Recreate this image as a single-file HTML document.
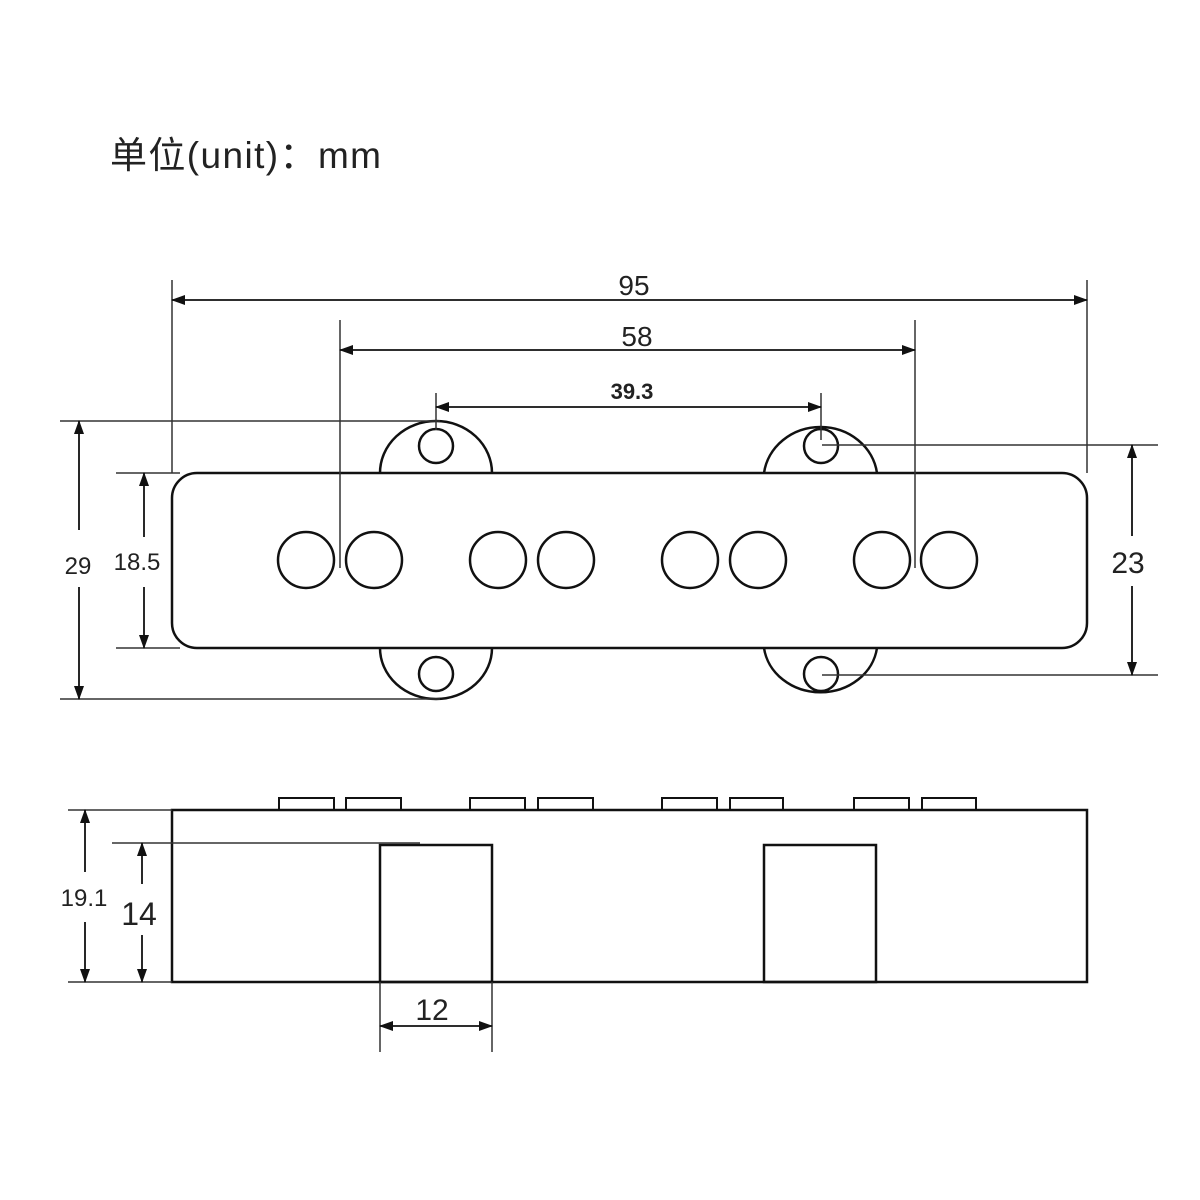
<!DOCTYPE html>
<html><head><meta charset="utf-8"><style>body{margin:0;background:#fff}svg{display:block}</style></head><body>
<svg width="1200" height="1200" viewBox="0 0 1200 1200" xmlns="http://www.w3.org/2000/svg">
<defs>
<marker id="a" markerWidth="14" markerHeight="10" refX="13" refY="5" orient="auto-start-reverse" markerUnits="userSpaceOnUse"><path d="M0,0 L14,5 L0,10 z" fill="#111"/></marker>
</defs>
<text x="110" y="168" font-family="Liberation Sans, Noto Sans CJK SC, sans-serif" font-size="37" letter-spacing="1" textLength="272" fill="#222">单位(unit)：mm</text>
<g fill="none" stroke="#111" stroke-width="2.5">
<path d="M380,473 A56,52 0 0 1 492,473"/>
<path d="M380,648 A56,51 0 0 0 492,648"/>
<path d="M764,473 A57,53 0 0 1 877,473"/>
<path d="M764,648 A57,51 0 0 0 877,648"/>
<rect x="172" y="473" width="915" height="175" rx="25"/>
<circle cx="436" cy="446" r="17"/><circle cx="436" cy="674" r="17"/>
<circle cx="821" cy="446" r="17"/><circle cx="821" cy="674" r="17"/>
<circle cx="306" cy="560" r="28"/><circle cx="374" cy="560" r="28"/>
<circle cx="498" cy="560" r="28"/><circle cx="566" cy="560" r="28"/>
<circle cx="690" cy="560" r="28"/><circle cx="758" cy="560" r="28"/>
<circle cx="882" cy="560" r="28"/><circle cx="949" cy="560" r="28"/>
<rect x="172" y="810" width="915" height="172"/>
<rect x="380" y="845" width="112" height="137"/>
<rect x="764" y="845" width="112" height="137"/>
<g stroke-width="2">
<rect x="279" y="798" width="55" height="12"/><rect x="346" y="798" width="55" height="12"/>
<rect x="470" y="798" width="55" height="12"/><rect x="538" y="798" width="55" height="12"/>
<rect x="662" y="798" width="55" height="12"/><rect x="730" y="798" width="53" height="12"/>
<rect x="854" y="798" width="55" height="12"/><rect x="922" y="798" width="54" height="12"/>
</g>
</g>
<g fill="none" stroke="#333" stroke-width="1.5">
<line x1="172" y1="280" x2="172" y2="473"/><line x1="1087" y1="280" x2="1087" y2="473"/>
<line x1="340" y1="320" x2="340" y2="568"/><line x1="915" y1="320" x2="915" y2="568"/>
<line x1="436" y1="393" x2="436" y2="430"/><line x1="821" y1="393" x2="821" y2="440"/>
<line x1="60" y1="421" x2="440" y2="421"/><line x1="60" y1="699" x2="440" y2="699"/>
<line x1="116" y1="473" x2="180" y2="473"/><line x1="116" y1="648" x2="180" y2="648"/>
<line x1="822" y1="445" x2="1158" y2="445"/><line x1="822" y1="675" x2="1158" y2="675"/>
<line x1="68" y1="810" x2="172" y2="810"/><line x1="68" y1="982" x2="172" y2="982"/>
<line x1="112" y1="843" x2="420" y2="843"/>
<line x1="380" y1="982" x2="380" y2="1052"/><line x1="492" y1="982" x2="492" y2="1052"/>
<g stroke="#111" stroke-width="1.8">
<line x1="172" y1="300" x2="1087" y2="300" marker-start="url(#a)" marker-end="url(#a)"/>
<line x1="340" y1="350" x2="915" y2="350" marker-start="url(#a)" marker-end="url(#a)"/>
<line x1="436" y1="407" x2="821" y2="407" marker-start="url(#a)" marker-end="url(#a)"/>
<line x1="79" y1="530" x2="79" y2="421" marker-end="url(#a)"/><line x1="79" y1="587" x2="79" y2="699" marker-end="url(#a)"/>
<line x1="144" y1="537" x2="144" y2="473" marker-end="url(#a)"/><line x1="144" y1="587" x2="144" y2="648" marker-end="url(#a)"/>
<line x1="1132" y1="536" x2="1132" y2="445" marker-end="url(#a)"/><line x1="1132" y1="586" x2="1132" y2="675" marker-end="url(#a)"/>
<line x1="85" y1="872" x2="85" y2="810" marker-end="url(#a)"/><line x1="85" y1="922" x2="85" y2="982" marker-end="url(#a)"/>
<line x1="142" y1="884" x2="142" y2="843" marker-end="url(#a)"/><line x1="142" y1="935" x2="142" y2="982" marker-end="url(#a)"/>
<line x1="380" y1="1026" x2="492" y2="1026" marker-start="url(#a)" marker-end="url(#a)"/>
</g>
</g>
<g font-family="Liberation Sans, sans-serif" fill="#222" text-anchor="middle">
<text x="634" y="295" font-size="28">95</text>
<text x="637" y="346" font-size="28">58</text>
<text x="632" y="399" font-size="22" font-weight="bold">39.3</text>
<text x="78" y="574" font-size="24">29</text>
<text x="137" y="570" font-size="24">18.5</text>
<text x="1128" y="573" font-size="30">23</text>
<text x="84" y="906" font-size="24">19.1</text>
<text x="139" y="925" font-size="32">14</text>
<text x="432" y="1020" font-size="30">12</text>
</g>
</svg>
</body></html>
